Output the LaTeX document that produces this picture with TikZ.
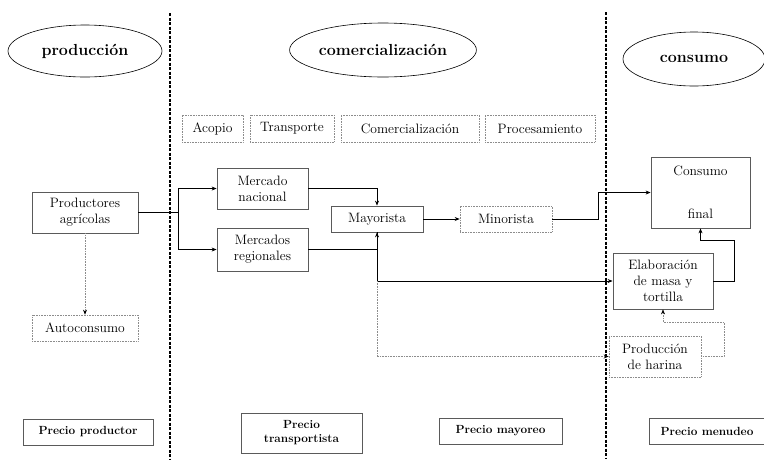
\documentclass[tikz,border=0pt]{standalone}
\usepackage{tikz}
\usetikzlibrary{arrows.meta, positioning, shapes.geometric, calc}
\definecolor{BoxGray}{RGB}{90, 90, 90}
\definecolor{DotGray}{RGB}{140, 140, 140}

\begin{document}
\begin{tikzpicture}[x=1pt, y=-1pt,
        every node/.style={font=\fontsize{13.6}{16}\selectfont, align=center, inner sep=2pt},
        stage/.style={ellipse, draw, line width=0.6pt, font=\fontsize{16}{19}\selectfont\bfseries},
        solidbox/.style={draw=BoxGray, line width=0.8pt},
        dotbox/.style={draw=DotGray, densely dotted, line width=0.6pt},
        pricebox/.style={draw=BoxGray, line width=0.9pt, font=\fontsize{11.8}{14}\selectfont\bfseries},
        flow/.style={-{Stealth[length=5pt, width=4pt]}, line width=0.7pt},
        dotflow/.style={-{Stealth[length=5pt, width=4pt, black]}, densely dotted, line width=0.6pt, draw=DotGray},
        divider/.style={dashed, dash pattern=on 3pt off 1.5pt, line width=1.2pt}]
        \useasboundingbox (0,0) rectangle (764,459);

        % Stages
        \node[stage, minimum width=154, minimum height=52] (prodE) at (85,51) {producción};
        \node[stage, minimum width=154, minimum height=54] (comerE) at (383,50) {comercialización};
        \node[stage, minimum width=142, minimum height=54] (consE) at (694,59) {consumo};

        % Dividers
        \draw[divider] (170,13) -- (170,459);
        \draw[divider] (606,12) -- (606,459);

        % Activities
        \node[dotbox, minimum width=61, minimum height=27] (acopio) at (212.5,128.5) {Acopio};
        \node[dotbox, minimum width=84, minimum height=27] (transp) at (292,128.5) {Transporte};
        \node[dotbox, minimum width=138, minimum height=27] (comerc) at (410,128.5) {Comercialización};
        \node[dotbox, minimum width=110, minimum height=27] (proces) at (540,128.5) {Procesamiento};

        % Chain
        \node[solidbox, minimum width=106, minimum height=41] (productores) at (85,212.5) {Productores\\agrícolas};
        \node[dotbox, minimum width=106, minimum height=26] (autoc) at (85,328) {Autoconsumo};
        \node[solidbox, minimum width=91, minimum height=41] (mnac) at (262.5,188.5) {Mercado\\nacional};
        \node[solidbox, minimum width=91, minimum height=43] (mreg) at (262.5,249.5) {Mercados\\regionales};
        \node[solidbox, minimum width=92, minimum height=26] (mayor) at (377,219) {Mayorista};
        \node[dotbox, minimum width=92, minimum height=26] (minor) at (506,219) {Minorista};
        \node[solidbox, minimum width=99, minimum height=71] (consumo) at (700.5,192.5) {Consumo\\[27pt]final};
        \node[solidbox, minimum width=100, minimum height=56] (elab) at (663,281) {Elaboración\\de masa y\\tortilla};
        \node[dotbox, minimum width=92, minimum height=41] (harina) at (655,356.5) {Producción\\de harina};

        % Prices
        \node[pricebox, minimum width=130, minimum height=26] (pprod) at (88,432) {Precio productor};
        \node[pricebox, minimum width=121, minimum height=40] (ptrans) at (301.5,433) {Precio\\transportista};
        \node[pricebox, minimum width=123, minimum height=26] (pmay) at (500.5,431) {Precio mayoreo};
        \node[pricebox, minimum width=116, minimum height=26] (pmen) at (707,431) {Precio menudeo};

        % Connectors
        \coordinate (split) at (178,212.5);
        \coordinate (ebend) at (734,240);
        \coordinate (hbend) at (724,322);
        \draw[line width=1.5pt] (productores.east) -- (split);
        \draw[flow] (split) |- (mnac.west);
        \draw[flow] (split) |- (mreg.west);
        \draw[flow] (mnac.east) -| (mayor.north);
        \draw[flow] (mreg.east) -| (mayor.south);
        \draw[flow] (mayor.east) -- (minor.west);
        \draw[flow] (minor.east) -- ++(46,0) |- (consumo.west);
        \draw[flow] (mayor.south) |- (elab.west);
        \draw[dotflow] (mayor.south |- elab.west) |- (harina.west);
        \draw[flow] (elab.east) -| (ebend) -| (consumo.south);
        \draw[dotflow] (harina.east) -| (hbend) -| (elab.south);
        \draw[dotflow] (productores.south) -- (autoc.north);
\end{tikzpicture}
\end{document}
